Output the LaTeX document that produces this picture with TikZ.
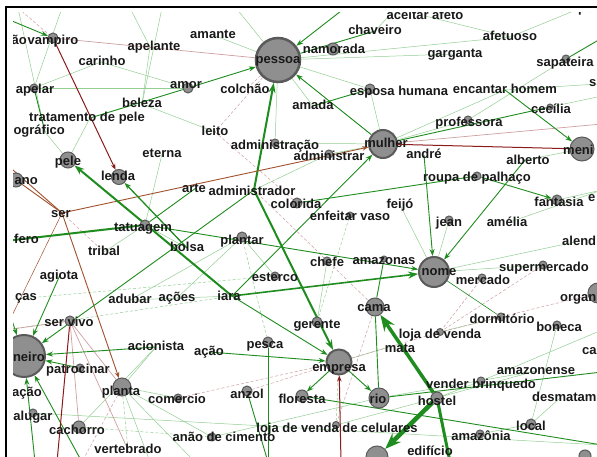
\documentclass[tikz,border=0pt]{standalone}
\usepackage{fontspec}
\setmainfont{Liberation Sans}
\usetikzlibrary{arrows.meta}
\pgfdeclarelayer{bg}
\pgfsetlayers{bg,main}
\definecolor{lgc}{HTML}{93CF93}
\definecolor{gc}{HTML}{1E8C1E}
\definecolor{brc}{HTML}{A0522D}
\definecolor{drc}{HTML}{8B1A1A}
\definecolor{pkc}{HTML}{CFA0A0}
\definecolor{dotfill}{HTML}{8F8F8F}
\definecolor{dotline}{HTML}{5A5A5A}
\tikzset{
 dot/.style={circle, fill=dotfill, draw=dotline, line width=1pt, inner sep=0pt},
 bigdot/.style={dot, line width=2pt},
 lbl/.style={font=\fontsize{13}{15}\selectfont\bfseries, inner sep=0pt, text=black!90, anchor=mid},
 lg/.style={draw=lgc, line width=0.5pt},
 lgd/.style={lg, dash pattern=on 3pt off 2pt},
 pk/.style={draw=pkc, line width=0.5pt, dash pattern=on 3pt off 2pt},
 pks/.style={draw=pkc, line width=0.7pt},
 gl/.style={draw=gc, line width=0.9pt},
 ga/.style={gl, -{Stealth[length=7pt,width=5pt]}},
 gt/.style={draw=gc, line width=2pt, -{Stealth[length=10pt,width=7pt]}},
 gtt/.style={draw=gc, line width=3.5pt, -{Stealth[length=16pt,width=12pt]}},
 br/.style={draw=brc, line width=0.9pt},
 bra/.style={br, -{Stealth[length=6pt,width=4.5pt]}},
 dr/.style={draw=drc, line width=1pt},
 dra/.style={dr, -{Stealth[length=6pt,width=4.5pt]}},
}
\begin{document}
\begin{tikzpicture}[x=1pt,y=-1pt]
\useasboundingbox (0,0) rectangle (597,457);
\begin{pgfonlayer}{bg}
\fill[white] (0,0) rectangle (597,457);
\end{pgfonlayer}
\draw[line width=2pt] (6,462) -- (6,7) -- (602,7);
% off-picture ends
\coordinate (oTL) at (0,16);
\coordinate (oTa) at (18,8);
\coordinate (oTb) at (62,8);
\coordinate (oTc) at (130,8);
\coordinate (oTd) at (162,8);
\coordinate (oTe) at (236,8);
\coordinate (oTf) at (350,4);
\coordinate (oTg) at (398,6);
\coordinate (oR1) at (602,38);
\coordinate (oR2) at (602,124);
\coordinate (oR3) at (602,190);
\coordinate (oR4) at (602,372);
\coordinate (oR5) at (602,445);
\coordinate (oR6) at (602,330);
\coordinate (oR7) at (602,96);
\coordinate (oL1) at (5,163);
\coordinate (oL2) at (5,241);
\coordinate (oL3) at (5,300);
\coordinate (oL4) at (5,330);
\coordinate (oB1) at (35,462);
\coordinate (oB2) at (82,462);
\coordinate (oB3) at (57,462);
\coordinate (oB4) at (268,462);
\coordinate (oB5) at (341,462);
\coordinate (oB6) at (450,462);
\coordinate (oB7) at (150,462);
\coordinate (oB8) at (195,462);
\begin{scope}
\clip (13,13) rectangle (597,457);
% ---- circles ----
\node[dot, minimum size=10pt] (vamp) at (53,38) {};
\node[dot, minimum size=8pt] (apelar) at (34,88) {};
\node[dot, minimum size=10pt] (amor) at (188,88) {};
\node[dot, minimum size=16pt] (pele) at (68,160) {};
\node[dot, minimum size=15pt] (lenda) at (119,177) {};
\node[dot, minimum size=14pt] (ano) at (16,180) {};
\node[dot, minimum size=10pt] (tatuagem) at (145,225) {};
\node[dot, minimum size=10pt] (servivo) at (70,321) {};
\node[bigdot, minimum size=42pt] (dinheiro) at (24,356) {};
\node[dot, minimum size=8pt] (patrocinar) at (80,368) {};
\node[dot, minimum size=18pt] (planta) at (122,387) {};
\node[dot, minimum size=8pt] (alugar) at (33,413) {};
\node[dot, minimum size=8pt] (comercio) at (178,398) {};
\node[dot, minimum size=12pt] (cachorro) at (79,427) {};
\node[dot, minimum size=8pt] (anao) at (212,437) {};
\node[dot, minimum size=8pt] (administracao) at (275,143) {};
\node[dot, minimum size=8pt] (administrar) at (329,154) {};
\node[bigdot, minimum size=28pt] (mulher) at (383,144) {};
\node[dot, minimum size=10pt] (colorida) at (297,203) {};
\node[dot, minimum size=6pt] (enfeitar) at (350,215) {};
\node[dot, minimum size=8pt] (professora) at (468,120) {};
\node[dot, minimum size=24pt] (menino) at (582,149) {};
\node[dot, minimum size=8pt] (roupa) at (477,176) {};
\node[dot, minimum size=10pt] (fantasia) at (557,200) {};
\node[dot, minimum size=8pt] (jean) at (449,220) {};
\node[bigdot, minimum size=30pt] (nome) at (434,272) {};
\node[dot, minimum size=8pt] (mercado) at (482,278) {};
\node[dot, minimum size=8pt] (supermercado) at (543,265) {};
\node[dot, minimum size=20pt] (organ) at (598,293) {};
\node[dot, minimum size=8pt] (dormitorio) at (501,317) {};
\node[dot, minimum size=8pt] (boneca) at (557,325) {};
\node[dot, minimum size=7pt] (lojavenda) at (440,332) {};
\node[dot, minimum size=6pt] (amazonas) at (384,259) {};
\node[dot, minimum size=8pt] (chefe) at (327,261) {};
\node[dot, minimum size=10pt] (plantar) at (242,237) {};
\node[dot, minimum size=8pt] (esterco) at (275,276) {};
\node[dot, minimum size=18pt] (cama) at (375,307) {};
\node[dot, minimum size=10pt] (gerente) at (317,322) {};
\node[dot, minimum size=10pt] (pesca) at (268,342) {};
\node[dot, minimum size=10pt] (anzol) at (247,391) {};
\node[dot, minimum size=12pt] (floresta) at (302,396) {};
\node[bigdot, minimum size=25pt] (empresa) at (339,362) {};
\node[dot, minimum size=20pt] (rio) at (379,398) {};
\node[dot, minimum size=7pt] (celulares) at (336,425) {};
\node[dot, minimum size=8pt] (vender) at (481,381) {};
\node[dot, minimum size=12pt] (hostel) at (437,398) {};
\node[dot, minimum size=10pt] (local) at (531,424) {};
\node[dot, minimum size=8pt] (amazonia) at (480,434) {};
\node[dot, minimum size=22pt] (bigbottom) at (377,457) {};
\node[dot, minimum size=12pt] (brbottom) at (585,456) {};
\node[bigdot, minimum size=44pt, line width=2.5pt] (pessoa) at (278,60) {};
\node[dot, minimum size=12pt] (namorada) at (333,49) {};
\node[dot, minimum size=10pt] (esposa) at (370,89) {};
\node[dot, minimum size=8pt] (sapateira) at (566,59) {};
\node[dot, minimum size=6pt] (cecilia) at (550,107) {};
% points without visible circles
\coordinate (apelante) at (150,47);
\coordinate (amante) at (213,35);
\coordinate (carinho) at (101,62);
\coordinate (beleza) at (142,104);
\coordinate (tratamento) at (90,118);
\coordinate (ografico) at (45,132);
\coordinate (leito) at (215,132);
\coordinate (eterna) at (162,154);
\coordinate (arte) at (196,188);
\coordinate (ser) at (62,213);
\coordinate (tribal) at (104,252);
\coordinate (bolsa) at (187,248);
\coordinate (agiota) at (60,275);
\coordinate (adubar) at (130,300);
\coordinate (acoes) at (177,298);
\coordinate (acionista) at (156,347);
\coordinate (acao) at (209,352);
\coordinate (vertebrado) at (128,450);
\coordinate (administrador) at (254,190);
\coordinate (feijo) at (400,205);
\coordinate (andre) at (424,155);
\coordinate (alberto) at (525,160);
\coordinate (amelia) at (507,223);
\coordinate (alend) at (575,242);
\coordinate (iara) at (232,296);
\coordinate (mata) at (392,346);
\coordinate (amazonense) at (536,371);
\coordinate (chaveiro) at (375,31);
\coordinate (colchao) at (245,90);
\coordinate (amada) at (313,106);
\coordinate (garganta) at (455,54);
\coordinate (afetuoso) at (510,37);
\coordinate (encantar) at (505,90);
\coordinate (aceitar) at (425,16);
\coordinate (corpo) at (576,10);
\coordinate (desmat) at (560,398);
\coordinate (sfrag) at (597,84);
% ---- edges ----
\begin{pgfonlayer}{bg}
\clip (13,13) rectangle (597,457);
% light lines
\draw[lg] (oTb) -- (apelar);
\draw[lg] (apelar) -- (carinho);
\draw[lg] (carinho) -- (amor);
\draw[lg] (apelar) -- (amor);
\draw[lg] (oTc) -- (apelante);
\draw[lg] (apelante) -- (beleza);
\draw[lg] (oTd) -- (beleza);
\draw[lg] (beleza) -- (leito);
\draw[lg] (oTa) -- (ografico);
\draw[lg] (oTe) -- (pessoa);
\draw[lg] (amante) -- (pessoa);
\draw[lg] (pessoa) -- (amada);
\draw[lg] (pessoa) -- (garganta);
\draw[lg] (pessoa) -- (afetuoso);
\draw[lg] (pessoa) -- (esposa);
\draw[lg] (pessoa) -- (administracao);
\draw[lg] (chaveiro) -- (oTg);
\draw[lg] (aceitar) -- (afetuoso);
\draw[lg] (afetuoso) -- (corpo);
\draw[lg] (professora) -- (sapateira);
\draw[lg] (encantar) -- (sfrag);
\draw[lg] (cecilia) -- (oR7);
\draw[lg] (mulher) -- (professora);
\draw[lg] (mulher) -- (administrar);
\draw[lg] (administracao) -- (mulher);
\draw[lg] (mulher) -- (esposa);
\draw[lg] (mulher) -- (encantar);
\draw[lg] (administrador) -- (administrar);
\draw[lg] (menino) -- (alberto);
\draw[lg] (fantasia) -- (oR3);
\draw[lg] (nome) -- (supermercado);
\draw[lg] (nome) -- (alend);
\draw[lg] (jean) -- (nome);
\draw[lg] (feijo) -- (nome);
\draw[lg] (amelia) -- (oR3);
\draw[lg] (tratamento) -- (pele);
\draw[lg] (ografico) -- (pele);
\draw[lg] (eterna) -- (tatuagem);
\draw[lg] (tatuagem) -- (tribal);
\draw[lg] (tatuagem) -- (bolsa);
\draw[lg] (plantar) -- (esterco);
\draw[lg] (plantar) -- (adubar);
\draw[lg] (iara) -- (adubar);
\draw[lg] (acoes) -- (plantar);
\draw[lg] (chefe) -- (gerente);
\draw[lg] (planta) -- (comercio);
\draw[lg] (planta) -- (acionista);
\draw[lg] (planta) -- (oB7);
\draw[lg] (planta) -- (oB8);
\draw[lg] (planta) -- (anao);
\draw[lg] (empresa) -- (mata);
\draw[lg] (rio) -- (amazonense);
\draw[lg] (hostel) -- (vender);
\draw[lg] (vender) -- (oR6);
\draw[lg] (dormitorio) -- (lojavenda);
\draw[lg] (boneca) -- (local);
\draw[lg] (local) -- (amazonia);
\draw[lg] (desmat) -- (local);
\draw[lg] (celulares) -- (amazonense);
\draw[lg] (anao) -- (rio);
\draw[lg] (cachorro) -- (acionista);
\draw[lg] (alugar) -- (oR5);
\draw[lgd] (plantar) -- (pesca);
\draw[lgd] (iara) -- (oL4);
\draw[lgd] (esterco) -- (oL3);
\draw[lgd] (enfeitar) -- (gerente);
\draw[lgd] (celulares) -- (empresa);
\draw[lgd] (cachorro) -- (anao);
\draw[lgd] (planta) -- (vertebrado);
% dashed pink / brown
\draw[pk] (oTa) -- (vamp);
\draw[pk] (pessoa) -- (colchao);
\draw[pk] (leito) -- (colorida);
\draw[pk] (pessoa) -- (leito);
\draw[pk] (administrador) -- (cama);
\draw[pk] (mercado) -- (lojavenda);
\draw[pk] (supermercado) -- (lojavenda);
\draw[pk] (organ) -- (lojavenda);
\draw[pk] (empresa) -- (anzol);
\draw[pk] (comercio) -- (empresa);
\draw[pk] (planta) -- (oB2);
\draw[pk] (ser) -- (tribal);
\draw[pk] (lojavenda) -- (empresa);
\draw[pk] (cama) -- (celulares);
\draw[pks] (vamp) -- (pessoa);
\draw[pks] (mulher) -- (oR2);
\draw[pks] (servivo) -- (cachorro);
\draw[pks] (servivo) -- (vertebrado);
\draw[pks] (servivo) -- (planta);
\draw[pks] (servivo) -- (oL4);
% strong lines
\draw[ga] (oTL) -- (vamp);
\draw[dra] (vamp) -- (lenda);
\draw[gl] (apelar) -- (ografico);
\draw[gl] (tratamento) -- (amor);
\draw[ga] (amor) -- (pessoa);
\draw[gt] (administrador) -- (pessoa);
\draw[ga] (oTf) -- (pessoa);
\draw[ga] (mulher) -- (pessoa);
\draw[gl] (pessoa) -- (chaveiro);
\draw[gl] (oR1) -- (sapateira);
\draw[gl] (esposa) -- (amada);
\draw[ga] (iara) -- (mulher);
\draw[bra] (ser) -- (mulher);
\draw[dr] (mulher) -- (menino);
\draw[gl] (mulher) -- (cecilia);
\draw[ga] (encantar) -- (menino);
\draw[gl] (colorida) -- (roupa);
\draw[ga] (roupa) -- (fantasia);
\draw[gt, line width=1.6pt] (iara) -- (nome);
\draw[ga] (tatuagem) -- (nome);
\draw[ga] (andre) -- (nome);
\draw[ga] (alberto) -- (nome);
\draw[gl, line width=0.6pt] (nome) -- (dormitorio);
\draw[br] (ser) -- (ano);
\draw[br] (ser) -- (oL1);
\draw[bra] (ser) -- (planta);
\draw[br, line width=0.5pt] (ser) -- (oL4);
\draw[draw=gc, line width=2pt] (oL2) -- (tatuagem);
\draw[gl] (tatuagem) -- (arte);
\draw[gt] (iara) -- (pele);
\draw[ga, line width=1.3pt] (bolsa) -- (lenda);
\draw[gt] (administrador) -- (empresa);
\draw[ga] (administrador) -- (dinheiro);
\draw[ga] (agiota) -- (dinheiro);
\draw[ga] (patrocinar) -- (dinheiro);
\draw[ga] (acionista) -- (dinheiro);
\draw[ga] (oB1) -- (dinheiro);
\draw[ga] (oB2) -- (dinheiro);
\draw[ga] (oL3) -- (dinheiro);
\draw[dr] (servivo) -- (oB3);
\draw[ga] (iara) -- (empresa);
\draw[ga] (acao) -- (empresa);
\draw[ga] (empresa) -- (floresta);
\draw[ga] (empresa) -- (rio);
\draw[dra] (oB5) -- (empresa);
\draw[gl] (floresta) -- (oR5);
\draw[gl] (rio) -- (oR4);
\draw[gl] (cama) -- (rio);
\draw[gl] (amazonas) -- (cama);
\draw[gl] (pesca) -- (oB4);
\draw[gl] (anzol) -- (oB4);
\draw[gtt] (hostel) -- (cama);
\draw[gtt, line width=4.5pt] (hostel) -- (bigbottom);
\draw[draw=gc, line width=3pt] (hostel) -- (oB6);
\end{pgfonlayer}
% ---- labels ----
\node[lbl] (t-ao) at (27,42) [anchor=mid east] {ão};
\node[lbl] (t-vamp) at (53,42) {vampiro};
\node[lbl] (t-apelante) at (154,48) {apelante};
\node[lbl] (t-amante) at (213,36) {amante};
\node[lbl] (t-carinho) at (102,63) {carinho};
\node[lbl] (t-apelar) at (35,91) {apelar};
\node[lbl] (t-amor) at (186,86) {amor};
\node[lbl] (t-beleza) at (142,105) {beleza};
\node[lbl] (t-trat) at (87,119) {tratamento de pele};
\node[lbl] (t-ograf) at (65,132) [anchor=mid east] {ográfico};
\node[lbl] (t-leito) at (215,133) {leito};
\node[lbl] (t-eterna) at (162,155) {eterna};
\node[lbl] (t-pele) at (68,163) {pele};
\node[lbl] (t-lenda) at (118,178) {lenda};
\node[lbl] (t-ano) at (38,182) [anchor=mid east] {ano};
\node[lbl] (t-arte) at (194,190) {arte};
\node[lbl] (t-ser) at (61,215) {ser};
\node[lbl] (t-tatuagem) at (143,229) {tatuagem};
\node[lbl] (t-fero) at (39,241) [anchor=mid east] {fero};
\node[lbl] (t-tribal) at (104,253) {tribal};
\node[lbl] (t-bolsa) at (187,249) {bolsa};
\node[lbl] (t-agiota) at (59,277) {agiota};
\node[lbl] (t-cas) at (37,298) [anchor=mid east] {ças};
\node[lbl] (t-adubar) at (130,301) {adubar};
\node[lbl] (t-acoes) at (177,299) {ações};
\node[lbl] (t-servivo) at (69,324) {ser vivo};
\node[lbl] (t-din) at (45,359) [anchor=mid east] {neiro};
\node[lbl] (t-patrocinar) at (78,371) {patrocinar};
\node[lbl] (t-acionista) at (156,348) {acionista};
\node[lbl] (t-acao) at (209,353) {ação};
\node[lbl] (t-acaofrag) at (42,394) [anchor=mid east] {ação};
\node[lbl] (t-planta) at (121,393) {planta};
\node[lbl] (t-alugar) at (33,418) {alugar};
\node[lbl] (t-comercio) at (177,401) {comercio};
\node[lbl] (t-cachorro) at (77,432) {cachorro};
\node[lbl] (t-vertebrado) at (128,451) {vertebrado};
\node[lbl] (t-anao) at (224,439) {anão de cimento};
\node[lbl] (t-administracao) at (275,147) {administração};
\node[lbl] (t-administrar) at (329,158) {administrar};
\node[lbl] (t-mulher) at (386,145) {mulher};
\node[lbl] (t-administrador) at (252,193) {administrador};
\node[lbl] (t-colorida) at (296,206) {colorida};
\node[lbl] (t-enfeitar) at (350,218) {enfeitar vaso};
\node[lbl] (t-feijo) at (400,206) {feijó};
\node[lbl] (t-professora) at (469,124) {professora};
\node[lbl] (t-andre) at (424,156) {andré};
\node[lbl] (t-menino) at (563,152) [anchor=mid west] {meni};
\node[lbl] (t-alberto) at (528,162) {alberto};
\node[lbl] (t-roupa) at (477,179) {roupa de palhaço};
\node[lbl] (t-fantasia) at (559,204) {fantasia};
\node[lbl] (t-e) at (588,199) [anchor=mid west] {e};
\node[lbl] (t-jean) at (449,224) {jean};
\node[lbl] (t-amelia) at (507,224) {amélia};
\node[lbl] (t-alend) at (562,243) [anchor=mid west] {alend};
\node[lbl] (t-nome) at (439,273) {nome};
\node[lbl] (t-mercado) at (483,282) {mercado};
\node[lbl] (t-supermercado) at (544,269) {supermercado};
\node[lbl] (t-organ) at (560,299) [anchor=mid west] {organ};
\node[lbl] (t-dormitorio) at (502,321) {dormitório};
\node[lbl] (t-boneca) at (559,329) {boneca};
\node[lbl] (t-lojavenda) at (440,336) {loja de venda};
\node[lbl] (t-amazonas) at (384,262) {amazonas};
\node[lbl] (t-chefe) at (327,264) {chefe};
\node[lbl] (t-plantar) at (242,242) {plantar};
\node[lbl] (t-esterco) at (275,279) {esterco};
\node[lbl] (t-iara) at (229,298) {iara};
\node[lbl] (t-cama) at (374,309) {cama};
\node[lbl] (t-gerente) at (317,326) {gerente};
\node[lbl] (t-pesca) at (265,346) {pesca};
\node[lbl] (t-anzol) at (247,396) {anzol};
\node[lbl] (t-floresta) at (302,401) {floresta};
\node[lbl] (t-empresa) at (339,369) {empresa};
\node[lbl] (t-rio) at (378,401) {rio};
\node[lbl] (t-celulares) at (337,430) {loja de venda de celulares};
\node[lbl] (t-mata) at (400,350) {mata};
\node[lbl] (t-amazonense) at (536,372) {amazonense};
\node[lbl] (t-vender) at (481,386) {vender brinquedo};
\node[lbl] (t-hostel) at (437,403) {hostel};
\node[lbl] (t-desmat) at (532,399) [anchor=mid west] {desmatam};
\node[lbl] (t-ca) at (582,352) [anchor=mid west] {ca};
\node[lbl] (t-local) at (531,428) {local};
\node[lbl] (t-amazonia) at (481,438) {amazônia};
\node[lbl] (t-edificio) at (430,453) {edifício};
\node[lbl] (t-pessoa) at (278,61) {pessoa};
\node[lbl] (t-namorada) at (334,51) {namorada};
\node[lbl] (t-chaveiro) at (375,32) {chaveiro};
\node[lbl] (t-colchao) at (245,91) {colchão};
\node[lbl] (t-amada) at (313,107) {amada};
\node[lbl] (t-esposa) at (399,93) {esposa humana};
\node[lbl] (t-garganta) at (455,55) {garganta};
\node[lbl] (t-afetuoso) at (510,38) {afetuoso};
\node[lbl] (t-sapateira) at (565,64) {sapateira};
\node[lbl] (t-encantar) at (505,91) {encantar homem};
\node[lbl] (t-cecilia) at (551,111) {cecília};
\node[lbl] (t-s) at (589,84) [anchor=mid west] {s};
\node[lbl] (t-aceitar) at (425,17) {aceitar afeto};
\node[lbl] (t-corpo) at (576,10) {corpo};
\end{scope}
\end{tikzpicture}
\end{document}
